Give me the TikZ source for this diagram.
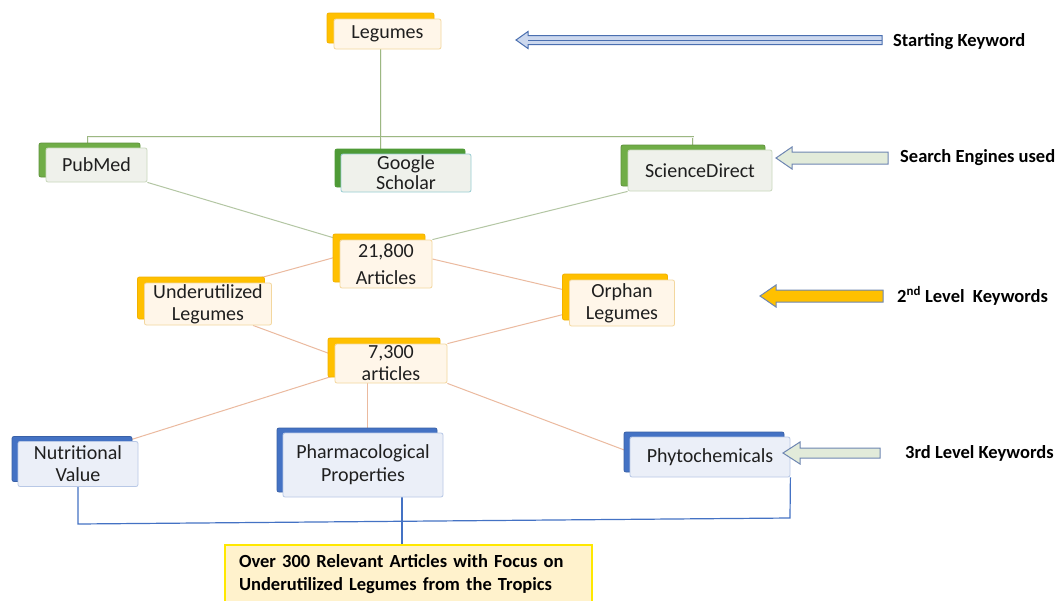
\documentclass[tikz,border=0pt]{standalone}
\usepackage{fontspec}
\setmainfont{Carlito}
\usetikzlibrary{shadows,backgrounds,calc}
\definecolor{gold}{HTML}{FFC000}
\definecolor{golddk}{HTML}{F2B100}
\definecolor{yfront}{HTML}{FFF6E9}
\definecolor{yedge}{HTML}{F3D79E}
\definecolor{grn}{HTML}{70AD47}
\definecolor{grndk}{HTML}{4E9A36}
\definecolor{gfront}{HTML}{EFF1EB}
\definecolor{gedge}{HTML}{C9D8BD}
\definecolor{blu}{HTML}{4472C4}
\definecolor{bfront}{HTML}{EBEFF8}
\definecolor{bedge}{HTML}{B8C8E6}
\definecolor{txt}{HTML}{1F1F1F}
\definecolor{trunkc}{HTML}{9CB882}
\definecolor{glinec}{HTML}{B3C6A3}
\definecolor{slinec}{HTML}{EBBA9F}
\definecolor{finfill}{HTML}{FFF2CC}
\definecolor{finedge}{HTML}{FFE800}
\definecolor{arrblue}{HTML}{4A6FB0}
\definecolor{arrgrey}{HTML}{6E86B2}
\definecolor{arrlight}{HTML}{CCD8EE}
\definecolor{arrgreen}{HTML}{E2EBDA}
\begin{document}
\begin{tikzpicture}[x=1pt,y=-1pt,
  boxbase/.style={rectangle, rounded corners=2pt, line width=0.8pt, text=txt,
    align=center, inner sep=0pt, font=\fontsize{20}{22}\selectfont},
  ybox/.style={boxbase, draw=yedge, fill=yfront,
    copy shadow={shadow xshift=-7pt, shadow yshift=6pt, fill=gold, draw=golddk, line width=0.8pt}},
  gbox/.style={boxbase, draw=gedge, fill=gfront,
    copy shadow={shadow xshift=-7pt, shadow yshift=5pt, fill=grn, draw=grn!85!black, line width=0.8pt}},
  gbox2/.style={boxbase, draw=cyan!30!gedge, fill=gfront,
    copy shadow={shadow xshift=-6pt, shadow yshift=5pt, fill=grndk, draw=grndk, line width=0.8pt}},
  bbox/.style={boxbase, draw=bedge, fill=bfront,
    copy shadow={shadow xshift=-6pt, shadow yshift=5pt, fill=blu, draw=blu!85!black, line width=0.8pt}},
  finalbox/.style={rectangle, draw=finedge, line width=2.5pt, fill=finfill, align=left,
    inner xsep=14pt, inner ysep=0pt, font=\fontsize{18.5}{23}\selectfont\bfseries, text=black},
  lbl/.style={anchor=west, inner sep=0pt, font=\fontsize{18.5}{22}\selectfont\bfseries, text=black},
  trunk/.style={draw=trunkc, double=gfront, double distance=1pt, line width=0.6pt},
  gline/.style={draw=glinec, line width=1pt},
  sline/.style={draw=slinec, line width=1pt},
  bline/.style={draw=blu, line width=1.2pt},
  arrsty/.style={line width=1pt, line join=miter}
]
\useasboundingbox (0,0) rectangle (1060,600);
\clip (0,0) rectangle (1060,600);

% boxes
\node[ybox, minimum width=107pt, minimum height=30pt] (legumes) at (387.5,34) {Legumes};
\node[gbox, minimum width=101pt, minimum height=34pt] (pubmed) at (96.5,165) {PubMed};
\node[gbox2, minimum width=130pt, minimum height=38pt, font=\fontsize{20}{20}\selectfont] (google) at (406,173) {Google\\Scholar};
\node[gbox, minimum width=144pt, minimum height=41pt] (science) at (700,170.5) {ScienceDirect};
\node[ybox, minimum width=92pt, minimum height=48pt, font=\fontsize{20}{27}\selectfont] (n21) at (386,264) {21,800\\Articles};
\node[ybox, minimum width=127pt, minimum height=42pt] (under) at (208,304) {Underutilized\\Legumes};
\node[ybox, minimum width=105pt, minimum height=46pt] (orphan) at (622,303) {Orphan\\Legumes};
\node[ybox, minimum width=112pt, minimum height=39pt] (n73) at (391,363.5) {7,300\\articles};
\node[bbox, minimum width=120pt, minimum height=45pt] (nutri) at (78,464) {Nutritional\\Value};
\node[bbox, minimum width=160pt, minimum height=64pt, font=\fontsize{20}{23}\selectfont] (pharm) at (363,465) {Pharmacological\\Properties};
\node[bbox, minimum width=160pt, minimum height=40pt] (phyto) at (710,457) {Phytochemicals};
\node[finalbox, minimum width=367pt, minimum height=59pt, text width=339pt] (final) at (408.5,574.5)
  {Over 300 Relevant Articles with Focus on\\Underutilized Legumes from the Tropics};

% connectors
\begin{scope}[on background layer]
\fill[white] (0,0) rectangle (1060,600);
\coordinate (busL) at (88,137);
\coordinate (busM) at (381,137);
\coordinate (busR) at (693,137);
\draw[trunk] (busM |- legumes.south) -- (busM);
\draw[trunk] (busL |- pubmed.north) -- (busL) -- (busR) -- (busR |- science.north);
\draw[trunk] (busM) -- (busM |- google.north);
\draw[gline] (pubmed.south east) -- (n21.north west);
\draw[gline] (science.south west) -- (n21.north east);
\draw[sline] ($(n21.west)+(0,-8)$) -- ($(under.north)+(35,0)$);
\draw[sline] ($(n21.east)+(0,-5)$) -- ($(orphan.west)+(0,-12)$);
\draw[sline] ($(under.south)+(45,0)$) -- ($(n73.west)+(0,-8)$);
\draw[sline] ($(orphan.west)+(0,10)$) -- (n73.north east);
\draw[sline] ($(n73.west)+(0,12)$) -- ($(nutri.north east)+(-12,0)$);
\coordinate (pv) at ($(pharm.north)+(4,0)$);
\draw[sline] (pv) -- (pv |- n73.south);
\draw[sline] (n73.south east) -- ($(phyto.west)+(0,-5)$);
\coordinate (bL) at (78,524);
\coordinate (bR) at (790,518);
\draw[bline] (nutri.south) -- (bL) -- (bR) -- (phyto.south east);
\coordinate (pd) at ($(pharm.south)+(39,0)$);
\draw[bline] (pd) -- (pd |- final.north);
\end{scope}

% side arrows
\draw[arrsty, draw=arrblue, fill=arrlight] (882,35.5) -- (528,35.5) -- (528,31.5) -- (516,40) -- (528,48.5) -- (528,44.5) -- (882,44.5) -- cycle;
\draw[draw=arrblue, line width=0.5pt] (882,40) -- (528,40);
\draw[arrsty, draw=arrgrey, fill=arrgreen] (888,152) -- (792,152) -- (792,147) -- (776,158) -- (792,169) -- (792,164) -- (888,164) -- cycle;
\draw[arrsty, draw=arrgrey, fill=gold] (883,290) -- (776,290) -- (776,285) -- (760,296) -- (776,307) -- (776,302) -- (883,302) -- cycle;
\draw[arrsty, draw=arrgrey, fill=arrgreen] (880,448) -- (800,448) -- (800,442) -- (783,453) -- (800,464) -- (800,458) -- (880,458) -- cycle;

% labels
\node[lbl] (l1) at (893,42) {Starting Keyword};
\node[lbl] (l2) at (900,158) {Search Engines used};
\node[lbl] (l3) at (897,296) {2\textsuperscript{nd} Level\ \ Keywords};
\node[lbl] (l4) at (905,453) {3rd Level Keywords};
\end{tikzpicture}
\end{document}
